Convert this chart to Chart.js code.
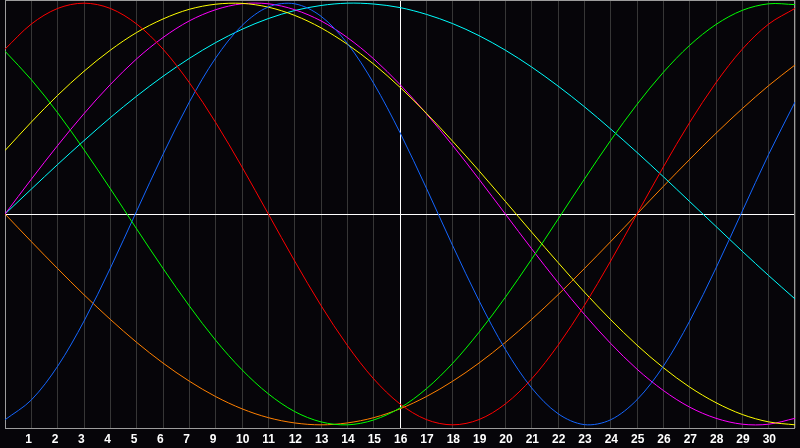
<!DOCTYPE html>
<html>
<head>
<meta charset="utf-8">
<script src="https://cdn.jsdelivr.net/npm/chart.js@4/dist/chart.umd.min.js"></script>
<style>
html,body{margin:0;padding:0;background:#060509;overflow:hidden}
#wrap{width:800px;height:448px}
</style>
</head>
<body>
<div id="wrap"><canvas id="c" width="800" height="448"></canvas></div>
<script>
// x positions (days across the chart)
const days = [0,1,2,3,4,5,6,7,8,9,10,11,12,13,14,15,16,17,18,19,20,21,22,23,24,25,26,27,28,29,30];
// tick labels shown at each grid line (index = grid line)
const dayLabels = ['','1','2','3','4','5','6','7','9','10','11','12','13','14','15','16','17','18','19','20','21','22','23','24','25','26','27','28','29','30',''];
const todayIndex = 15;

const redValues = [0.782,0.901,0.975,1.0,0.975,0.901,0.782,0.623,0.434,0.223,0,-0.223,-0.434,-0.623,-0.782,-0.901,-0.975,-1.0,-0.975,-0.901,-0.782,-0.623,-0.434,-0.223,0,0.223,0.434,0.623,0.782,0.901,0.975];
const greenValues = [0.772,0.637,0.480,0.305,0.120,-0.071,-0.258,-0.436,-0.599,-0.739,-0.853,-0.937,-0.986,-1.0,-0.977,-0.920,-0.829,-0.708,-0.561,-0.395,-0.214,-0.025,0.165,0.349,0.520,0.672,0.800,0.899,0.966,0.997,0.993];
const blueValues = [-0.976,-0.882,-0.722,-0.508,-0.257,0.014,0.283,0.531,0.740,0.894,0.982,0.997,0.938,0.809,0.620,0.386,0.123,-0.150,-0.411,-0.642,-0.825,-0.947,-0.999,-0.976,-0.881,-0.722,-0.508,-0.256,0.014,0.283,0.531];
const yellowValues = [0.301,0.436,0.563,0.677,0.777,0.861,0.925,0.971,0.995,0.999,0.981,0.942,0.883,0.805,0.711,0.601,0.478,0.345,0.205,0.060,-0.086,-0.230,-0.370,-0.501,-0.622,-0.729,-0.821,-0.895,-0.951,-0.986,-1.0];
const magentaValues = [0,0.165,0.325,0.476,0.614,0.736,0.837,0.916,0.969,0.997,0.997,0.969,0.916,0.837,0.736,0.614,0.476,0.325,0.165,0,-0.165,-0.325,-0.476,-0.614,-0.736,-0.837,-0.916,-0.969,-0.997,-0.997,-0.969];
const cyanValues = [0,0.118,0.235,0.348,0.457,0.559,0.653,0.738,0.813,0.876,0.927,0.965,0.989,1.0,0.996,0.979,0.947,0.903,0.846,0.777,0.697,0.607,0.509,0.403,0.292,0.177,0.059,-0.059,-0.177,-0.292,-0.403];
const orangeValues = [0,-0.131,-0.259,-0.383,-0.5,-0.609,-0.707,-0.793,-0.866,-0.924,-0.966,-0.991,-1.0,-0.991,-0.966,-0.924,-0.866,-0.793,-0.707,-0.609,-0.5,-0.383,-0.259,-0.131,0,0.131,0.259,0.383,0.5,0.609,0.707];

const BG = '#060509';
const series = [
  {v: redValues, c: '#ff0000'},
  {v: greenValues, c: '#00ff00'},
  {v: blueValues, c: '#1466ff'},
  {v: yellowValues, c: '#ffff00'},
  {v: magentaValues, c: '#ff00ff'},
  {v: cyanValues, c: '#00ffff'},
  {v: orangeValues, c: '#ff8000'}
];

const framePlugin = {
  id: 'frame',
  beforeDraw(chart) {
    const ctx = chart.ctx;
    ctx.save();
    ctx.fillStyle = BG;
    ctx.fillRect(0, 0, chart.width, chart.height);
    ctx.restore();
  },
  beforeDatasetsDraw(chart) {
    const a = chart.chartArea, ctx = chart.ctx;
    ctx.save();
    ctx.strokeStyle = '#9c9c9c';
    ctx.lineWidth = 1;
    ctx.strokeRect(a.left + 0.5, a.top + 0.5, a.right - a.left - 1, a.bottom - a.top);
    ctx.restore();
  }
};

new Chart(document.getElementById('c'), {
  type: 'line',
  data: {
    datasets: series.map(s => ({
      data: days.map((d, i) => ({x: d, y: s.v[i]})),
      borderColor: s.c,
      borderWidth: 1,
      pointRadius: 0,
      fill: false,
      tension: 0.33
    }))
  },
  options: {
    responsive: false,
    animation: false,
    events: [],
    layout: {padding: 0},
    plugins: {legend: {display: false}, tooltip: {enabled: false}},
    scales: {
      x: {
        type: 'linear',
        min: 0,
        max: 30,
        afterBuildTicks: s => { s.ticks = days.map(d => ({value: d})); },
        afterFit: s => { s.height = 20; },
        grid: {
          drawTicks: false,
          color: c => c.tick && c.tick.value === todayIndex ? '#ffffff' : '#363636',
          lineWidth: 1
        },
        border: {display: false},
        ticks: {
          autoSkip: false,
          maxRotation: 0,
          minRotation: 0,
          align: 'start',
          labelOffset: -6,
          padding: 5,
          color: '#ffffff',
          font: {family: '"Liberation Sans", Arial, sans-serif', size: 12, weight: 'bold', lineHeight: '13px'},
          callback: v => dayLabels[v]
        }
      },
      y: {
        min: -1.015,
        max: 1.015,
        afterBuildTicks: s => { s.ticks = [{value: 0}]; },
        grid: {drawTicks: false, color: '#ffffff', lineWidth: 1},
        border: {display: false},
        ticks: {display: false}
      }
    }
  },
  plugins: [framePlugin]
});
</script>
</body>
</html>
